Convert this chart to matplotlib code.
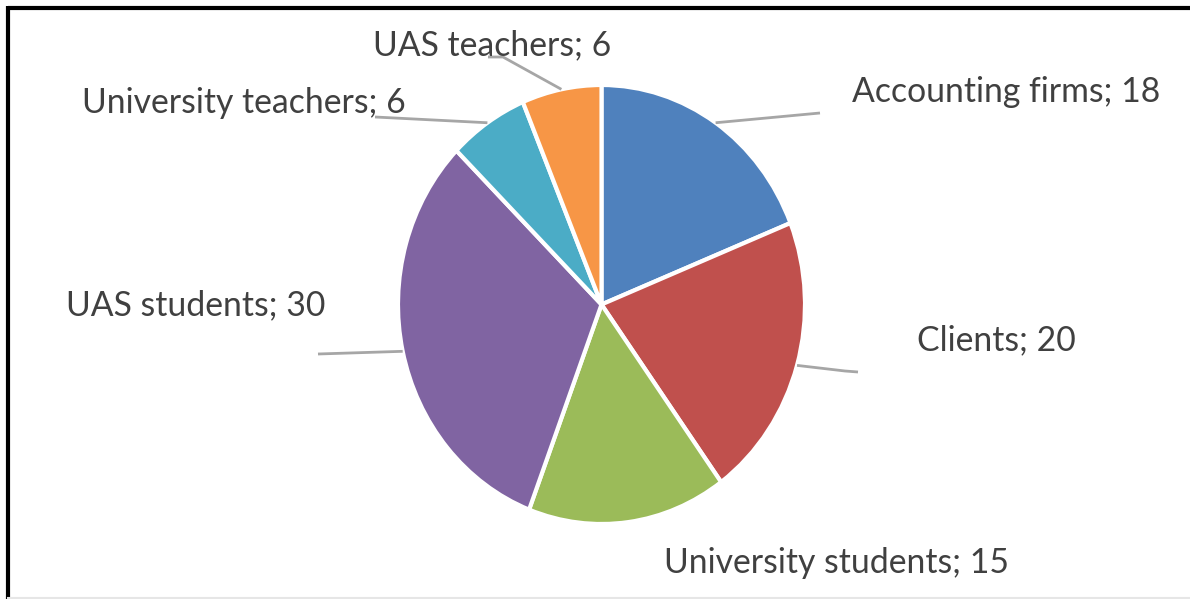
import numpy as np
import matplotlib
matplotlib.use("Agg")
from matplotlib import pyplot as plt

# data
labels = ["Accounting firms", "Clients", "University students",
          "UAS students", "University teachers", "UAS teachers"]
values = [18, 20, 15, 30, 6, 6]
colors = ["#4F81BD", "#C0504D", "#9BBB59", "#8064A2", "#4BACC6", "#F79646"]

# label layout (pixel coords, y from top): text centre, leader elbow, leader end
text_pos = [(1006, 92), (996, 340), (836, 563), (196, 305), (244, 103), (492, 45)]
elbows = [(820, 113), (845, 371), None, (318, 354), (375, 117), (503, 57)]
ends = [(820, 113), (858, 372), None, (318, 354), (375, 117), (488, 57)]

W, H = 1190, 599
fig = plt.figure(figsize=(W / 100, H / 100), dpi=100)

# pie axes (slightly stretched vertically, like the source)
cx, cy, rx, ry = 601.5, 304.5, 203.5, 219.5
ax = fig.add_axes([(cx - rx) / W, (H - cy - ry) / H, 2 * rx / W, 2 * ry / H])
wedges, _ = ax.pie(values, colors=colors, startangle=90, counterclock=False,
                   radius=1, wedgeprops=dict(edgecolor="white", linewidth=3))
ax.set_aspect("auto")
ax.set_xlim(-1, 1)
ax.set_ylim(-1, 1)
ax.axis("off")

# overlay in pixel coords for labels / leader lines / frame
ov = fig.add_axes([0, 0, 1, 1], zorder=5)
ov.set_xlim(0, W)
ov.set_ylim(H, 0)
ov.axis("off")
ov.patch.set_alpha(0)

to_ov = ax.transData + ov.transData.inverted()
for i, w in enumerate(wedges):
    th = np.deg2rad((w.theta1 + w.theta2) / 2)
    sx, sy = to_ov.transform((np.cos(th), np.sin(th)))
    if elbows[i] is not None:
        ov.plot([sx, elbows[i][0], ends[i][0]], [sy, elbows[i][1], ends[i][1]],
                color="#A6A6A6", lw=2, solid_capstyle="butt")
    ov.text(text_pos[i][0], text_pos[i][1], f"{labels[i]}; {values[i]}",
            ha="center", va="center", fontsize=24.3, color="#404040",
            family="Lato")

# frame (top/left black, bottom faint)
ov.plot([8, W], [7.5, 7.5], color="black", lw=3, solid_capstyle="butt")
ov.plot([8, 8], [6, H], color="black", lw=3, solid_capstyle="butt")
ov.plot([8, W], [597.5, 597.5], color="#E6E6E6", lw=1.5)

fig.savefig("out.png", dpi=100)
